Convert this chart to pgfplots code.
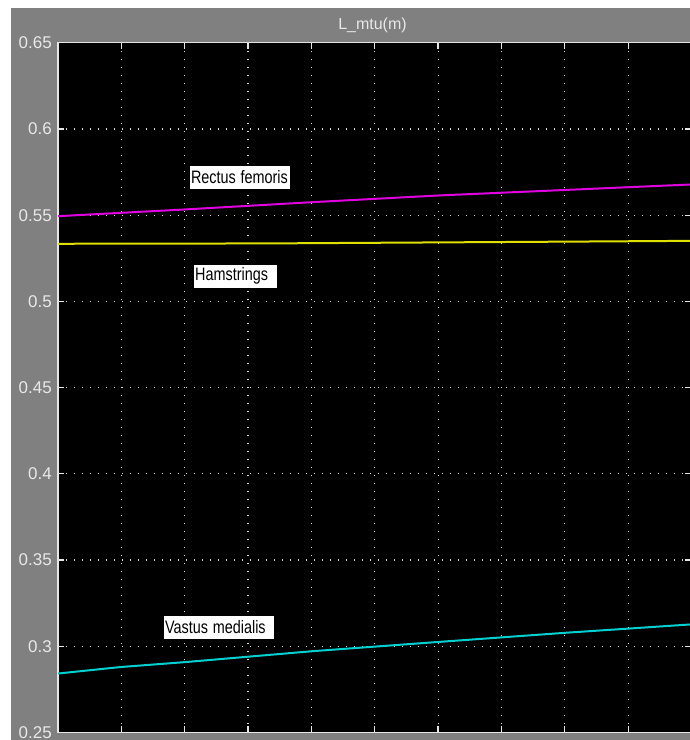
\documentclass[border=0pt]{standalone}
\usepackage{pgfplots}
\pgfplotsset{compat=1.18}
\usepackage{fontspec}
\setmainfont{Liberation Sans}
\usepackage{graphicx}
\definecolor{figgray}{HTML}{808080}
\definecolor{axiscol}{HTML}{E6E6E6}
\definecolor{gridcol}{HTML}{D8D8D8}
\definecolor{labcol}{HTML}{E8E8E8}
\definecolor{mag}{HTML}{E000E0}
\definecolor{yel}{HTML}{E0E000}
\definecolor{cya}{HTML}{00D0D0}
\tikzset{lab/.style={fill=white, draw=black, line width=0.8pt, text=black, anchor=west, inner xsep=1.5pt, inner ysep=0pt, minimum height=24pt, align=left, font=\fontsize{18}{20}\selectfont}}
\begin{document}
\begin{tikzpicture}
\path[use as bounding box] (0,0) rectangle (690pt,740pt);
\fill[figgray] (11pt,0) rectangle (690pt,732pt);
\begin{axis}[
  at={(58pt,7.5pt)}, anchor=south west,
  scale only axis, width=633.5pt, height=689.8pt,
  xmin=0, xmax=10, ymin=0.25, ymax=0.65,
  xtick={0,1,2,3,4,5,6,7,8,9,10}, xticklabels={},
  ytick={0.25,0.3,0.35,0.4,0.45,0.5,0.55,0.6,0.65},
  yticklabels={0.25,0.3,0.35,0.4,0.45,0.5,0.55,0.6,0.65},
  axis background/.style={fill=black},
  axis line style={draw=axiscol, line width=1.3pt},
  tick style={draw=axiscol, line width=1.3pt},
  tick align=inside, major tick length=6.5pt,
  grid=major,
  major grid style={draw=gridcol, line width=1.2pt, dash pattern=on 1.2pt off 6.8pt},
  yticklabel style={font=\fontsize{17}{20}\selectfont, text=labcol, anchor=east, inner sep=0pt, xshift=-6pt},
  /pgf/number format/assume math mode=true,
]
\addplot[mag, line width=2pt] coordinates {(0,0.5494) (2,0.5533) (4,0.5575) (6,0.5614) (8,0.5646) (10,0.5678)};
\addplot[yel, line width=2pt] coordinates {(0,0.5334) (3.3,0.5336) (8.3,0.5347) (10,0.5351)};
\addplot[cya, line width=2pt] coordinates {(0,0.2842) (1,0.2880) (2,0.2908) (4,0.2971) (6,0.3025) (8,0.3078) (10,0.3127)};
\node[lab, text width=98pt] at (axis cs:2.07,0.5721) {\scalebox{0.8}[1]{Rectus femoris}};
\node[lab, text width=81pt] at (axis cs:2.136,0.5147) {\scalebox{0.8}[1]{Hamstrings}};
\node[lab, text width=108pt] at (axis cs:1.661,0.3112) {\scalebox{0.8}[1]{Vastus medialis}};
\end{axis}
\node[text=labcol, font=\fontsize{16}{19}\selectfont, inner sep=0pt] at (372.5pt,715pt) {L\_mtu(m)};
\end{tikzpicture}
\end{document}
